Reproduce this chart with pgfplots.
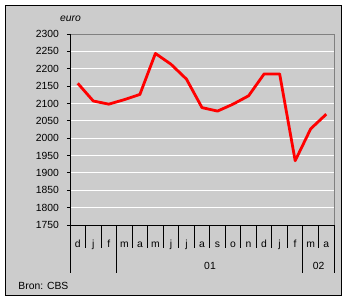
\documentclass[border=0pt]{standalone}
\usepackage{pgfplots}
\pgfplotsset{compat=1.18}
\usepackage{fontspec}
\setmainfont{Liberation Sans}
\definecolor{bg}{RGB}{204,204,204}
\definecolor{frame}{RGB}{128,128,128}
\begin{document}
\begin{tikzpicture}[font=\fontsize{10.4}{12}\selectfont]
\path[fill=white] (0,0) rectangle (349bp,302bp);
\fill[bg] (5.5bp,6.5bp) rectangle (341.5bp,296.5bp);
\draw[black, line width=1.7bp] (5.5bp,6.5bp) rectangle (341.5bp,296.5bp);
\begin{axis}[
  at={(70bp,77bp)}, anchor=south west,
  scale only axis, width=264bp, height=191bp,
  xmin=-0.5, xmax=16.5, ymin=1750, ymax=2300,
  ytick={1750,1800,...,2300},
  ymajorgrids, grid style={white, line width=0.9bp},
  axis line style={draw=none},
  tick align=outside, major tick length=3bp,
  ytick pos=left,
  tick style={black, line width=0.9bp},
  xtick={0,...,16},
  xticklabels={d,j,f,m,a,m,j,j,a,s,o,n,d,j,f,m,a},
  xtick style={draw=none},
  xticklabel style={anchor=base, yshift=-19.3bp, inner sep=0pt},
  yticklabel style={anchor=east, inner sep=0pt, xshift=-8bp},
  /pgf/number format/1000 sep={},
  /pgf/number format/assume math mode=true,
  clip=false,
]
\draw[frame, line width=0.9bp] (rel axis cs:0,1) -- (rel axis cs:1,1) -- (rel axis cs:1,0);
\draw[black, line width=0.9bp] (rel axis cs:0,1) -- (rel axis cs:0,0) -- (rel axis cs:1,0);
\pgfplotsinvokeforeach{0.5,1.5,3.5,4.5,5.5,6.5,7.5,8.5,9.5,10.5,11.5,12.5,13.5,15.5}{
  \draw[black, line width=0.9bp] (axis cs:#1,1750) -- ([yshift=-23bp]axis cs:#1,1750);
}
\pgfplotsinvokeforeach{-0.5,2.5,14.5,16.5}{
  \draw[black, line width=0.9bp] (axis cs:#1,1750) -- ([yshift=-47.7bp]axis cs:#1,1750);
}
\addplot[red, line width=2.8bp, line join=round, mark=none] coordinates {
 (0,2158) (1,2107) (2,2098) (3,2111) (4,2126) (5,2244) (6,2213) (7,2170)
 (8,2088) (9,2078) (10,2098) (11,2122) (12,2185) (13,2185) (14,1935)
 (15,2027) (16,2069)
};
\end{axis}
\node[anchor=base, inner sep=0pt] at (70.5bp,280.3bp) {\textit{euro}};
\node[anchor=base, inner sep=0pt] at (210bp,33bp) {01};
\node[anchor=base, inner sep=0pt] at (318.7bp,33bp) {02};
\node[anchor=base west, inner sep=0pt] at (18.3bp,12.7bp) {Bron: CBS};
\end{tikzpicture}
\end{document}
